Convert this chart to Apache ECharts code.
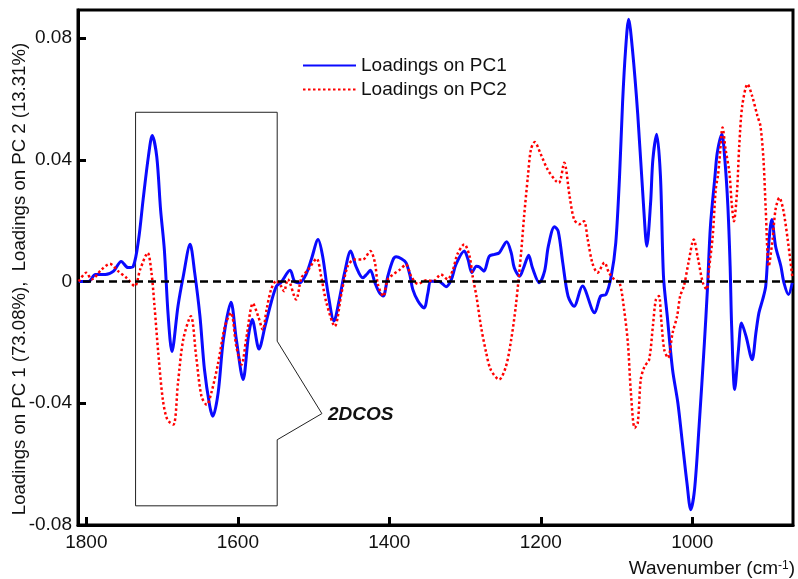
<!DOCTYPE html>
<html>
<head>
<meta charset="utf-8">
<script src="https://cdn.jsdelivr.net/npm/echarts@6/dist/echarts.min.js"></script>
<style>
  html, body { margin: 0; padding: 0; background: #fff; }
  #chart { width: 798px; height: 579px; }
</style>
</head>
<body>
<div id="chart"></div>
<script>
// PCA loadings of the FTIR spectra, wavenumber (cm-1) vs loading
const pc1Wn = [1810, 1797, 1788, 1775, 1764, 1754, 1745, 1738, 1731, 1725, 1718, 1713, 1707, 1702, 1697, 1692,
  1687, 1679, 1672, 1663, 1657, 1650, 1644, 1637, 1633, 1626, 1619, 1609, 1602, 1593, 1586, 1581, 1572, 1564,
  1556, 1549, 1543, 1531, 1525, 1518, 1510, 1503, 1494, 1488, 1481, 1473, 1466, 1459, 1451, 1444, 1435, 1430,
  1425, 1419, 1413, 1408, 1402, 1395, 1391, 1384, 1378, 1373, 1369, 1362, 1354, 1349, 1345, 1334, 1325, 1318,
  1312, 1301, 1296, 1291, 1285, 1281, 1275, 1268, 1261, 1255, 1245, 1239, 1235, 1228, 1222, 1216, 1211, 1202,
  1195, 1190, 1182, 1177, 1171, 1164, 1156, 1145, 1129, 1121, 1114, 1107, 1101, 1096, 1092, 1088, 1084, 1079,
  1072, 1064, 1060, 1055, 1052, 1047, 1042, 1038, 1033, 1026, 1019, 1013, 1007, 1002, 997, 991, 984, 980, 976,
  970, 967, 961, 957, 953, 950, 948, 944, 939, 935, 929, 921, 916, 912, 907, 903, 900, 895, 890, 883, 879, 873, 868];
const pc1Val = [0, 0, 0.0023, 0.0023, 0.0034, 0.0066, 0.0046, 0.005, 0.0138, 0.027, 0.0412, 0.048, 0.041, 0.0237, 0.0105, -0.011,
  -0.023, -0.0081, 0.0017, 0.0122, 0.003, -0.0114, -0.029, -0.041, -0.0443, -0.0366, -0.019, -0.0068, -0.019, -0.0322, -0.018, -0.0125, -0.0222, -0.0147,
  -0.0069, -0.0015, -0.0003, 0.0037, 0, -0.0004, 0.0023, 0.0072, 0.0138, 0.0083, -0.0037, -0.013, -0.0059, 0.0029, 0.01, 0.005, 0.0012, 0.0023,
  0.0037, -0.0004, -0.0037, -0.0048, 0.0017, 0.0072, 0.0081, 0.0075, 0.0062, 0.0023, -0.0026, -0.0065, -0.0087, -0.0037, 0.0001, 0, -0.0017, 0.0007,
  0.0056, 0.01, 0.0072, 0.0029, 0.005, 0.0048, 0.0034, 0.0083, 0.0089, 0.0094, 0.0131, 0.0094, 0.0045, 0.0017, 0.005, 0.0086, 0.0045, -0.0004,
  0.0034, 0.0116, 0.018, 0.0165, 0.0062, -0.0048, -0.0081, -0.0015, -0.0103, -0.0048, -0.0043, 0.0017, 0.0127, 0.0346, 0.0588, 0.0763, 0.0862, 0.0763,
  0.055, 0.0237, 0.0116, 0.0259, 0.0401, 0.0484, 0.0346, 0.0017, -0.0114, -0.029, -0.0399, -0.0531, -0.0662, -0.075, -0.0684, -0.0476, -0.0202, -0.0026, 0.0182,
  0.0346, 0.0423, 0.0484, 0.0401, 0.0248, 0.005, -0.0147, -0.0355, -0.0224, -0.0136, -0.018, -0.0257, -0.0169, -0.0103, -0.0059, -0.0015, 0.0094, 0.0204, 0.0116, 0.005, -0.0004, -0.0043, -0.0004];

const pc2Wn = [1810, 1800, 1793, 1780, 1769, 1758, 1747, 1736, 1729, 1719, 1714, 1710, 1705, 1699, 1693, 1685,
  1679, 1672, 1662, 1655, 1648, 1641, 1635, 1626, 1617, 1609, 1602, 1595, 1589, 1580, 1573, 1567, 1562, 1556,
  1549, 1543, 1539, 1534, 1523, 1516, 1507, 1496, 1490, 1483, 1472, 1463, 1455, 1446, 1435, 1425, 1419, 1415,
  1408, 1402, 1395, 1386, 1378, 1371, 1362, 1351, 1342, 1332, 1323, 1316, 1310, 1301, 1294, 1290, 1285, 1279,
  1272, 1266, 1255, 1246, 1239, 1233, 1226, 1222, 1217, 1213, 1208, 1200, 1191, 1180, 1176, 1169, 1162, 1156,
  1149, 1143, 1138, 1132, 1125, 1116, 1110, 1103, 1096, 1090, 1085, 1081, 1076, 1072, 1068, 1063, 1057, 1052,
  1048, 1044, 1041, 1037, 1032, 1026, 1020, 1016, 1011, 1005, 998, 993, 986, 981, 978, 973, 969, 966, 964, 960,
  956, 951, 948, 945, 941, 938, 934, 927, 921, 914, 910, 906, 903, 899, 894, 890, 885, 880, 874, 868];
const pc2Val = [0, 0.0029, 0.0007, 0.0039, 0.0058, 0.0034, 0.0012, -0.0015, 0.0039, 0.0094, 0.0029, -0.0081, -0.0235, -0.0388, -0.0454, -0.047,
  -0.0333, -0.019, -0.0114, -0.0246, -0.0377, -0.0405, -0.0366, -0.0268, -0.0147, -0.0103, -0.0213, -0.0273, -0.019, -0.0072, -0.0115, -0.0158, -0.0092, -0.0026,
  0.0003, -0.0015, -0.0032, 0.0007, -0.0059, 0.0012, 0.0039, 0.0075, 0.0017, -0.007, -0.0147, -0.0037, 0.005, 0.0072, 0.0072, 0.01, 0.0062, -0.001,
  -0.0048, 0.0007, 0.0023, 0.0039, 0.0056, 0.0017, -0.0008, 0.0004, 0.0001, 0.0023, 0.0007, 0.0039, 0.009, 0.0122, 0.0083, 0.0017, -0.0048, -0.0147,
  -0.0235, -0.029, -0.0322, -0.0279, -0.019, -0.0081, 0.0094, 0.0215, 0.0346, 0.0434, 0.0458, 0.0418, 0.0368, 0.033, 0.0324, 0.039, 0.0281, 0.0204,
  0.0188, 0.0198, 0.0138, 0.0062, 0.0029, 0.0062, 0.0029, 0.0007, -0.0004, -0.0092, -0.0202, -0.0366, -0.0481, -0.0465, -0.0322, -0.0279, -0.0257, -0.0147,
  -0.0059, -0.0048, -0.0125, -0.0224, -0.0251, -0.0169, -0.0114, -0.0048, -0.0015, 0.0062, 0.0138, 0.0083, -0.0004, -0.0026, 0.0039, 0.0149, 0.0303, 0.035, 0.0401, 0.0506,
  0.0434, 0.0358, 0.0259, 0.0198, 0.0292, 0.0445, 0.0577, 0.0648, 0.061, 0.0544, 0.0511, 0.0401, 0.0237, 0.005, 0.0138, 0.0237, 0.0275, 0.0237, 0.0138, 0.0017];

const xTicks = [1800, 1600, 1400, 1200, 1000];
const yTicks = [-0.08, -0.04, 0, 0.04, 0.08];

// region selected for 2D correlation analysis, with its callout
const boxWn = [1735, 1548];
const boxLoad = [0.0556, -0.0737];
const calloutWn = 1489;
const calloutLoad = [-0.0196, -0.0434, -0.052];

const FONT = '"Liberation Sans", Arial, Helvetica, sans-serif';

function zip(a, b) { return a.map((v, i) => [v, b[i]]); }

const chart = echarts.init(document.getElementById('chart'), null, { renderer: 'canvas' });

chart.setOption({
  animation: false,
  backgroundColor: '#fff',
  grid: {
    left: 78, right: 5, top: 10, bottom: 54,
    show: true, borderColor: '#000', borderWidth: 3
  },
  legend: {
    data: ['Loadings on PC1', 'Loadings on PC2'],
    orient: 'vertical',
    left: 302, top: 56, padding: 0,
    itemWidth: 53, itemHeight: 14, itemGap: 5,
    itemStyle: { opacity: 0 },
    textStyle: { fontFamily: FONT, fontSize: 19, color: '#111' }
  },
  xAxis: {
    type: 'value', inverse: true, min: 867, max: 1811,
    splitLine: { show: false },
    axisLine: { onZero: false, lineStyle: { color: '#000', width: 3 } },
    axisTick: { inside: true, length: 8, lineStyle: { color: '#000', width: 3 }, customValues: xTicks },
    axisLabel: {
      customValues: xTicks, margin: 8, fontFamily: FONT, fontSize: 19, color: '#111',
      formatter: v => String(v)
    }
  },
  yAxis: {
    type: 'value', min: -0.08, max: 0.0892,
    splitLine: { show: false },
    axisLine: { onZero: false, lineStyle: { color: '#000', width: 3 } },
    axisTick: { inside: true, length: 8, lineStyle: { color: '#000', width: 3 }, customValues: yTicks },
    axisLabel: {
      customValues: yTicks, margin: 6, fontFamily: FONT, fontSize: 19, color: '#111',
      formatter: v => (v === 0 ? '0' : v.toFixed(2))
    }
  },
  graphic: [
    {
      type: 'text', x: 20, y: 279, rotation: Math.PI / 2,
      style: {
        text: 'Loadings on PC 1 (73.08%),  Loadings on PC 2 (13.31%)',
        font: '18.6px ' + FONT, fill: '#111', align: 'center', verticalAlign: 'middle'
      }
    },
    {
      type: 'text', x: 795, y: 569,
      style: {
        text: '{a|Wavenumber (cm}{b|-1}{a|)}',
        align: 'right', verticalAlign: 'middle',
        rich: {
          a: { fontFamily: FONT, fontSize: 19, fill: '#111' },
          b: { fontFamily: FONT, fontSize: 12, fill: '#111', verticalAlign: 'top' }
        }
      }
    }
  ],
  series: [
    {
      name: 'Loadings on PC1', type: 'line', data: zip(pc1Wn, pc1Val),
      symbol: 'none', smooth: 0.3, z: 3,
      lineStyle: { color: '#0a0aff', width: 3 },
      itemStyle: { color: '#0a0aff' },
      markLine: {
        silent: true, symbol: 'none', label: { show: false },
        lineStyle: { color: '#000', width: 2.5, type: [8, 5] },
        data: [{ yAxis: 0 }]
      }
    },
    {
      name: 'Loadings on PC2', type: 'line', data: zip(pc2Wn, pc2Val),
      symbol: 'none', smooth: 0.3, z: 4,
      lineStyle: { color: '#ff0000', width: 2.5, type: [2.5, 2.5] },
      itemStyle: { color: '#ff0000' }
    },
    {
      type: 'custom', silent: true, z: 2,
      data: [[boxWn[1], 0]],
      renderItem: function (params, api) {
        const pts = [
          [boxWn[1], calloutLoad[0]], [boxWn[1], boxLoad[0]], [boxWn[0], boxLoad[0]],
          [boxWn[0], boxLoad[1]], [boxWn[1], boxLoad[1]], [boxWn[1], calloutLoad[2]],
          [calloutWn, calloutLoad[1]], [boxWn[1], calloutLoad[0]]
        ].map(p => api.coord(p));
        const tip = api.coord([calloutWn, calloutLoad[1]]);
        return {
          type: 'group',
          children: [
            { type: 'polyline', shape: { points: pts }, style: { stroke: '#222', lineWidth: 1, fill: null } },
            {
              type: 'text', x: tip[0] + 6, y: tip[1] + 1,
              style: { text: '2DCOS', font: 'italic bold 19px ' + FONT, fill: '#111', verticalAlign: 'middle' }
            }
          ]
        };
      }
    }
  ]
});
</script>
</body>
</html>
